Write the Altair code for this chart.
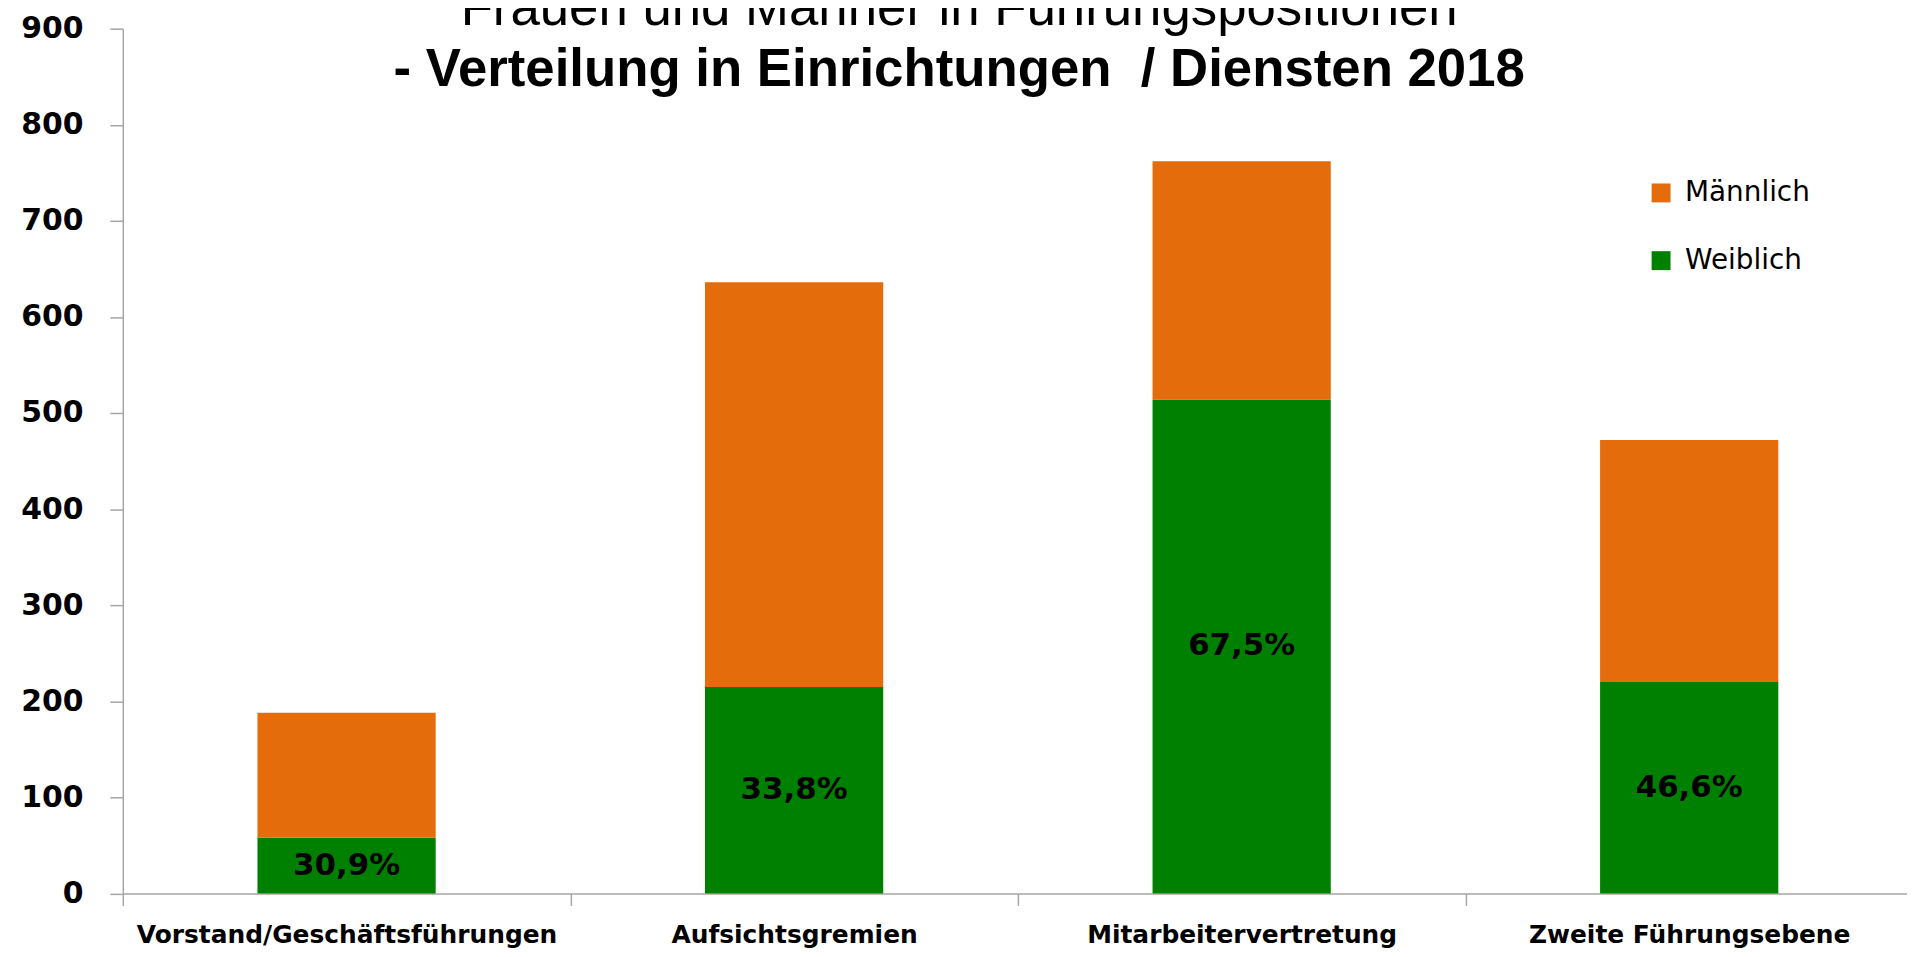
import altair as alt
import pandas as pd

categories = ["Vorstand/Geschäftsführungen", "Aufsichtsgremien", "Mitarbeitervertretung", "Zweite Führungsebene"]
weiblich = [58, 215, 514, 220]
maennlich_total = [188, 636, 762, 472]
pct_labels = ["30,9%", "33,8%", "67,5%", "46,6%"]
series = ["Männlich", "Weiblich"]
colors = ["#E46C0A", "#008000"]
y_ticks = [0, 100, 200, 300, 400, 500, 600, 700, 800, 900]

rows = []
for c, w, t in zip(categories, weiblich, maennlich_total):
    rows.append({"cat": c, "serie": "Weiblich", "wert": w, "ord": 0})
    rows.append({"cat": c, "serie": "Männlich", "wert": t - w, "ord": 1})
df = pd.DataFrame(rows)
lab = pd.DataFrame({"cat": categories, "w": weiblich, "txt": pct_labels})

W = 1792
H = 868.6
xscale = alt.Scale(domain=categories, range=[0, 1798], paddingInner=0, paddingOuter=0)
yscale = alt.Scale(domain=[0, 900], nice=False)

xaxis = alt.Axis(title=None, labelAngle=0, tickBand="extent", domainColor="#A6A6A6",
                 tickColor="#A6A6A6", tickSize=12, domainWidth=1.5, tickWidth=1.5,
                 labelFont="DejaVu Sans", labelFontWeight="bold", labelFontSize=25,
                 labelColor="black", labelBaseline="alphabetic", labelPadding=37,
                 labelLimit=0, labelOverlap=False, grid=False)
yaxis = alt.Axis(title=None, values=y_ticks, domainColor="#A6A6A6", tickColor="#A6A6A6",
                 tickSize=13, domainWidth=1.5, tickWidth=1.5, labelFont="DejaVu Sans",
                 labelFontWeight="bold", labelFontSize=30, labelColor="black",
                 labelPadding=27, grid=False)

bars = alt.Chart(df).mark_bar(size=179).encode(
    x=alt.X("cat:N", scale=xscale, axis=xaxis, sort=categories),
    y=alt.Y("wert:Q", scale=yscale, axis=yaxis, stack="zero"),
    color=alt.Color("serie:N", scale=alt.Scale(domain=series, range=colors),
                    legend=alt.Legend(orient="none", legendX=1531, legendY=151, title=None,
                                      symbolType="square", symbolSize=361,
                                      symbolStrokeWidth=0, labelFont="DejaVu Sans",
                                      labelFontSize=28, labelColor="black",
                                      labelOffset=10, rowPadding=40, padding=0)),
    order=alt.Order("ord:Q", sort="ascending"),
)

texts = alt.Chart(lab).transform_calculate(mid="datum.w / 2").mark_text(
    font="DejaVu Sans", fontWeight="bold", fontSize=31, color="black", baseline="middle"
).encode(
    x=alt.X("cat:N", scale=xscale, sort=categories),
    y=alt.Y("mid:Q", scale=yscale),
    text="txt:N",
)

chart = alt.layer(bars, texts).properties(
    width=W, height=H,
    title=alt.TitleParams(
        text="Frauen und Männer in Führungspositionen",
        subtitle="- Verteilung in Einrichtungen\u00a0 / Diensten 2018",
        font="Liberation Sans", fontSize=53, fontWeight="normal", color="black",
        subtitleFont="Liberation Sans", subtitleFontSize=53, subtitleFontWeight="bold",
        subtitleColor="black", subtitlePadding=9, anchor="middle", frame="group",
        dx=-56, dy=88,
    ),
    autosize=alt.AutoSizeParams(type="none"),
    padding={"left": 115.3, "top": 18.7, "right": 0, "bottom": 53.6},
).configure_view(stroke=None)

chart.save("out.html", embed_options={"renderer": "svg", "actions": False})
